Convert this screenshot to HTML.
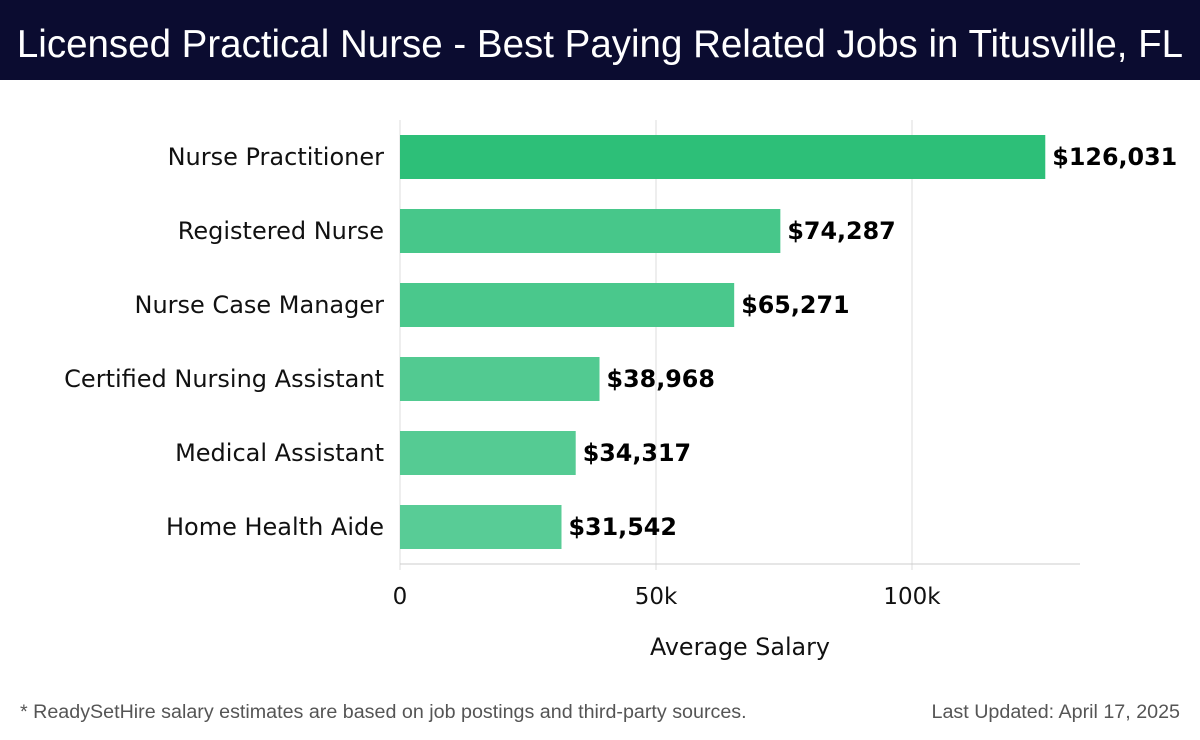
<!DOCTYPE html>
<html><head><meta charset="utf-8"><style>
body{margin:0;width:1200px;height:740px;background:#fff;overflow:hidden;font-family:"DejaVu Sans","Liberation Sans",sans-serif}
#hdr{position:absolute;left:0;top:0;width:1200px;height:80px;background:#0b0c30;color:#fff;font-family:"Liberation Sans",sans-serif;font-size:38.5px;text-align:center;line-height:90px;white-space:nowrap}
.ft{position:absolute;top:701px;font-family:"Liberation Sans",sans-serif;font-size:19.7px;color:#555}
</style></head><body>
<div id="hdr">Licensed Practical Nurse - Best Paying Related Jobs in Titusville, FL</div>
<svg id="chart" width="1200" height="740" style="position:absolute;left:0;top:0"></svg>
<div class="ft" style="left:20px">* ReadySetHire salary estimates are based on job postings and third-party sources.</div>
<div class="ft" style="right:20px">Last Updated: April 17, 2025</div>
<script>
const categories=["Nurse Practitioner","Registered Nurse","Nurse Case Manager","Certified Nursing Assistant","Medical Assistant","Home Health Aide"];
const values=[126031,74287,65271,38968,34317,31542];
const labels=["$126,031","$74,287","$65,271","$38,968","$34,317","$31,542"];
const ticks=[0,50000,100000];
const tickLabels=["0","50k","100k"];
const colors=["#2dbf78","#47c78a","#4ac88c","#52ca91","#55cb93","#58cc96"];
const svg=document.getElementById('chart');const NS="http://www.w3.org/2000/svg";
const x0=400,pxPer=256/50000,yTop=120,yAxis=564,step=74;
const sx=v=>x0+v*pxPer;const syc=i=>157+i*step;
function mk(t,a,txt){const e=document.createElementNS(NS,t);for(const k in a)e.setAttribute(k,a[k]);if(txt!=null)e.textContent=txt;svg.appendChild(e);return e;}
ticks.forEach((t,i)=>{
 const g=mk('line',{x1:sx(t),x2:sx(t),y1:yTop,y2:570,stroke:'#ddd','stroke-width':1});
 
 
 const tl=mk('text',{x:sx(t),y:604,'text-anchor':'middle','font-size':23,fill:'#111'},tickLabels[i]);
 
 
});
const ax=mk('line',{x1:x0,x2:1080,y1:yAxis,y2:yAxis,stroke:'#ccc','stroke-width':1});


categories.forEach((c,i)=>{
 const cy=syc(i);
 const r=mk('rect',{x:x0,y:cy-22,width:sx(values[i])-x0,height:44,fill:colors[i]});
 
 
 const l=mk('text',{x:384,y:cy+8,'text-anchor':'end','font-size':24,fill:'#111'},c);
 
 
 const v=mk('text',{x:sx(values[i])+7,y:cy+8,'font-size':23.8,'font-weight':'bold',fill:'#000'},labels[i]);
 
 
});
const at=mk('text',{x:740,y:655,'text-anchor':'middle','font-size':23.8,fill:'#111'},'Average Salary');


</script>
</body></html>
